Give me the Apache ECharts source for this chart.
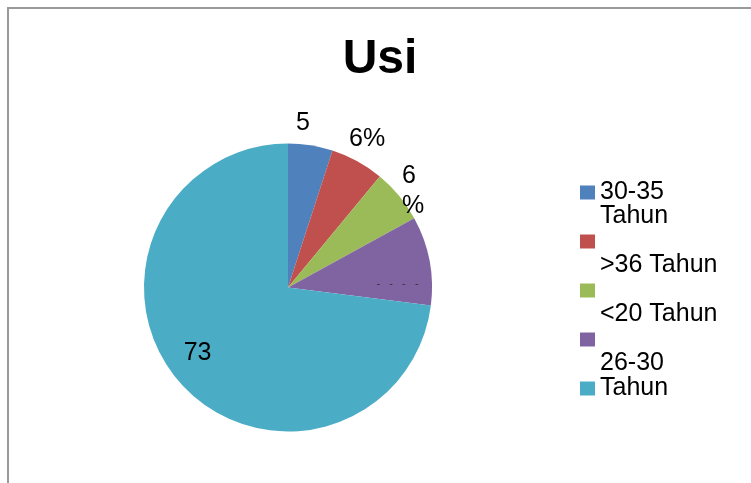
<!DOCTYPE html>
<html>
<head>
<meta charset="utf-8">
<script src="https://cdn.jsdelivr.net/npm/echarts@6/dist/echarts.min.js"></script>
<style>
  html, body { margin: 0; padding: 0; background: #ffffff; }
  #chart { width: 751px; height: 483px; }
</style>
</head>
<body>
<div id="chart"></div>
<script>
// ---- data ----
const chartTitle = "Usi";
const categories = ["30-35 Tahun", ">36 Tahun", "<20 Tahun", "26-30 Tahun", "Tahun"];
const values = [5, 6, 6, 10, 73];
const sliceLabels = ["5", "6%", "6\n%", "-   -   -   -", "73"];
const legendLabels = ["\n30-35\nTahun", "\n\n>36 Tahun", "\n\n<20 Tahun", "\n\n26-30", "\nTahun\n"];
const colors = ["#4F81BD", "#C0504D", "#9BBB59", "#8064A2", "#4BACC6"];

// ---- layout / style (not data) ----
const FONT = "'Liberation Sans', Arial, sans-serif";
const labelNudge = [[-19.5, -21.8], [-13.4, -22.3], [-2, -4.7], [35.8, 10.6], [-34.2, 16.4]];
const labelPos = ["outside", "outside", "outside", "inside", "inside"];
const labelSize = [25, 25, 25, 11, 25];

const chart = echarts.init(document.getElementById('chart'), null, { renderer: 'canvas' });

const pieData = categories.map((name, i) => ({
  name: name,
  value: values[i],
  itemStyle: { color: colors[i] },
  label: {
    position: labelPos[i],
    fontSize: labelSize[i],
    lineHeight: i === 2 ? 30 : undefined,
    color: i === 3 ? '#333333' : '#000000'
  }
}));

chart.setOption({
  animation: false,
  backgroundColor: '#ffffff',
  title: {
    text: chartTitle,
    left: 380,
    textAlign: 'center',
    top: 36,
    padding: 0,
    textStyle: { fontFamily: FONT, fontWeight: 'bold', fontSize: 48, color: '#000000' }
  },
  legend: {
    orient: 'vertical',
    left: 580,
    top: 156,
    padding: 0,
    itemGap: -24,
    itemWidth: 15,
    itemHeight: 14,
    icon: 'rect',
    selectedMode: false,
    data: categories,
    formatter: function (name) { return legendLabels[categories.indexOf(name)]; },
    textStyle: { fontFamily: FONT, fontSize: 25, lineHeight: 24, color: '#000000' }
  },
  graphic: [{
    type: 'rect',
    shape: { x: 8, y: 8, width: 800, height: 520 },
    style: { fill: 'none', stroke: '#999999', lineWidth: 2 },
    silent: true
  }],
  series: [{
    type: 'pie',
    center: [288, 287.5],
    radius: 144,
    startAngle: 90,
    clockwise: true,
    avoidLabelOverlap: false,
    silent: true,
    label: {
      show: true,
      fontFamily: FONT,
      color: '#000000',
      formatter: function (p) { return sliceLabels[p.dataIndex]; }
    },
    labelLine: { show: false, length: 0, length2: 0 },
    labelLayout: function (p) {
      const n = labelNudge[p.dataIndex];
      return { dx: n[0], dy: n[1] };
    },
    data: pieData
  }]
});
</script>
</body>
</html>
